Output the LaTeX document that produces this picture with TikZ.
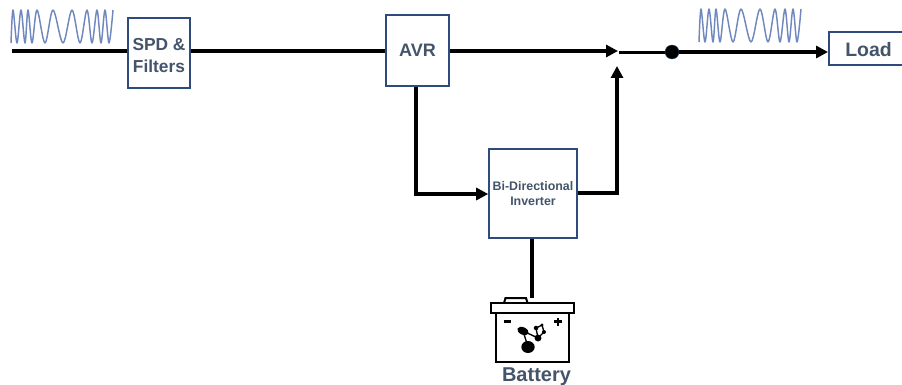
\documentclass[tikz,border=0pt]{standalone}
\usepackage{fontspec}
\setmainfont{Liberation Sans}
\usetikzlibrary{arrows.meta,calc}
\definecolor{boxline}{HTML}{2F4B7C}
\definecolor{boxtext}{HTML}{44546A}
\definecolor{wavec}{HTML}{7088BE}
\tikzset{
  blockbox/.style={draw=boxline,line width=1.2pt,fill=white,inner sep=0pt,align=center,text=boxtext,font=\bfseries},
  wire/.style={line width=2.3pt,black},
  thinwire/.style={line width=2pt,black},
  arrowwire/.style={wire,-{Triangle[length=9pt,width=9pt]}},
  wavepath/.style={draw=wavec,line width=1.1pt,line join=round},
  pics/wave/.style={code={
    \draw[wavepath] plot[smooth,tension=0.55] coordinates {(0,33)(2,0)(6,33)(10,0)(14,33)(17,0)(21,33)(26,0)(34,33)(42,0)(52,33)(61,0)(69,33)(76,0)(81,33)(86,0)(90,33)(94,0)(98,33)(102,0)};
  }}
}
\begin{document}
\begin{tikzpicture}[x=0.75pt,y=-0.75pt]
\useasboundingbox (0,0) rectangle (902,385);
% boxes
\node[blockbox,minimum width=46.5pt,minimum height=52.5pt,font=\bfseries\fontsize{13}{16.5}\selectfont] (spd) at (159,53) {\rule{0pt}{12.5pt}SPD \&\\Filters};
\node[blockbox,minimum width=47pt,minimum height=53pt,font=\bfseries\fontsize{13.5}{16}\selectfont] (avr) at (417.5,50.5) {AVR};
\node[blockbox,minimum width=66pt,minimum height=66.5pt,font=\bfseries\fontsize{9.3}{11.2}\selectfont] (inv) at (533,193.5) {Bi-Directional\\Inverter};
\node[blockbox,minimum width=59.5pt,minimum height=24.5pt,font=\bfseries\fontsize{14.6}{17}\selectfont] (load) at (868.5,48.5) {\rule{0pt}{12.5pt}Load};
% free ends
\coordinate (inL) at (12,51);
\coordinate (swA) at (618,51);
\coordinate (swB) at (617,66);
\coordinate (swOut) at (618.5,52.5);
\coordinate (dotOut) at (672,52);
\coordinate (avrDown) at (416,194);
\coordinate (invUp) at (617,193);
\coordinate (batTop) at (532,298);
% wires
\draw[wire] (inL) -- (inL -| spd.west);
\draw[wire] (spd.east |- 0,51) -- (avr.west |- 0,51);
\draw[arrowwire] (avr.east |- 0,51) -- (swA);
\draw[thinwire] (swOut) -- (dotOut |- swOut);
\draw[arrowwire] (dotOut) -- (load.west |- dotOut);
\node[circle,fill=black,draw=boxline,line width=0.3pt,minimum size=10.5pt,inner sep=0pt] (dot) at (dotOut) {};
\draw[arrowwire] (avr.south -| avrDown) -- (avrDown) -- (inv.west |- avrDown);
\draw[arrowwire] (inv.east |- invUp) -- (invUp) -- (swB);
\draw[wire] (inv.south -| batTop) -- (batTop);
% waves
\pic at (11,10) {wave};
\pic at (699,9) {wave};
% battery
\draw[black,line width=1.5pt,fill=white] (504,303) -- (505.5,298) -- (526,298) -- (527.5,303);
\draw[black,line width=1.8pt,fill=white] (496,313) rectangle (569,362);
\draw[black,line width=1.8pt,fill=white] (491,303) rectangle (574,313);
\draw[black,line width=2.2pt] (503.5,321.5) -- (510.5,321.5);
\draw[black,line width=2.2pt] (554,321.5) -- (562,321.5) (558,317.5) -- (558,325.5);
\fill[black] (528,347) ellipse [x radius=5pt,y radius=4.5pt];
\fill[black,rotate around={-25:(523,331)}] (523,331) ellipse [x radius=4.5pt,y radius=2.8pt];
\fill[black] (538,338) circle (2.6pt);
\fill[black] (536,328) circle (1.7pt);
\fill[black] (542,325) circle (1.2pt);
\fill[black] (544,332) circle (1.5pt);
\draw[black,line width=1pt] (523,331) -- (528,347) (523,331) -- (538,338) -- (544,332) -- (542,325) -- (536,328) -- (538,338);
\node[font=\bfseries\fontsize{15}{17}\selectfont,text=boxtext,inner sep=0pt] (battxt) at (536.5,377) {Battery};
\end{tikzpicture}
\end{document}
